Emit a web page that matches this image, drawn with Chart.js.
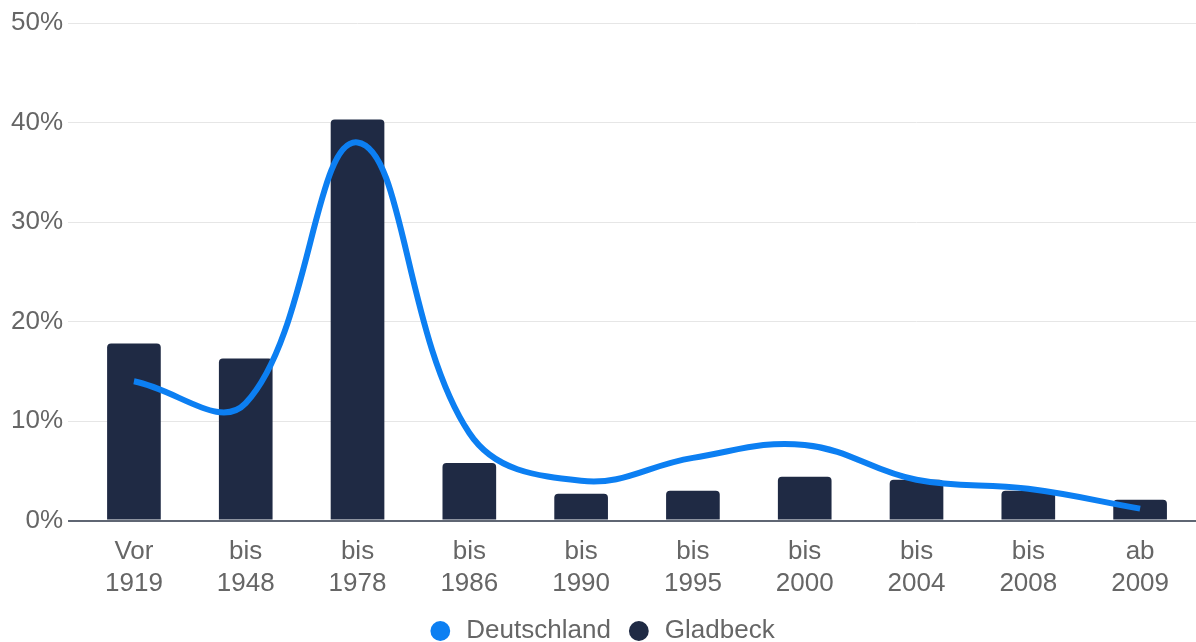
<!DOCTYPE html>
<html lang="de">
<head>
<meta charset="utf-8">
<title>Baujahr der Wohngebäude</title>
<script src="https://cdn.jsdelivr.net/npm/chart.js@4/dist/chart.umd.min.js"></script>
<style>
  html, body { margin: 0; padding: 0; background: #fff; }
  #wrap { width: 1196px; height: 642px; position: relative; }
</style>
</head>
<body>
<div id="wrap"><canvas id="chart"></canvas></div>
<script>
// building age classes, share of buildings in percent
const periods = [
  ['Vor', '1919'], ['bis', '1948'], ['bis', '1978'], ['bis', '1986'], ['bis', '1990'],
  ['bis', '1995'], ['bis', '2000'], ['bis', '2004'], ['bis', '2008'], ['ab', '2009']
];
const deutschland = [14.0, 11.8, 38.0, 8.8, 4.0, 6.3, 7.6, 4.1, 3.2, 1.2];
const gladbeck = [17.8, 16.3, 40.3, 5.8, 2.7, 3.0, 4.4, 4.1, 3.0, 2.1];
const yTicks = [0, 10, 20, 30, 40, 50];

const BLUE = '#0c7ff2';
const NAVY = '#1f2a44';
const GREY = '#666666';

Chart.defaults.font.family = '"Liberation Sans", Arial, sans-serif';
Chart.defaults.font.size = 26;
Chart.defaults.color = GREY;

// lift the legend row a few pixels after layout
const legendLift = {
  id: 'legendLift',
  afterLayout(chart) {
    if (chart.legend) {
      chart.legend.top -= 4;
      chart.legend.bottom -= 4;
    }
  }
};

new Chart(document.getElementById('chart'), {
  type: 'bar',
  data: {
    labels: periods,
    datasets: [
      {
        type: 'line',
        label: 'Deutschland',
        data: deutschland,
        borderColor: BLUE,
        backgroundColor: BLUE,
        borderWidth: 6,
        pointRadius: 0,
        tension: 0.4,
        borderCapStyle: 'butt'
      },
      {
        label: 'Gladbeck',
        data: gladbeck,
        backgroundColor: NAVY,
        borderRadius: 4,
        barPercentage: 0.6,
        categoryPercentage: 0.8
      }
    ]
  },
  plugins: [legendLift],
  options: {
    responsive: true,
    maintainAspectRatio: false,
    animation: false,
    // negative bottom pulls the legend close to the canvas edge
    layout: { padding: { top: 23, right: 0, left: 6, bottom: -16 } },
    plugins: {
      tooltip: { enabled: false },
      legend: {
        position: 'bottom',
        labels: {
          usePointStyle: true,
          boxWidth: 26,
          boxHeight: 14,
          padding: 15,
          font: { size: 26 },
          generateLabels: function (chart) {
            return chart.data.datasets.map((ds, i) => ({
              text: ds.label,
              fillStyle: ds.type === 'line' ? BLUE : NAVY,
              strokeStyle: ds.type === 'line' ? BLUE : NAVY,
              lineWidth: 0,
              pointStyle: 'circle',
              hidden: false,
              datasetIndex: i,
              fontColor: GREY
            }));
          }
        }
      }
    },
    scales: {
      x: {
        grid: { display: false },
        border: { display: false },
        ticks: { font: { size: 26 }, color: GREY, maxRotation: 0, padding: 8 }
      },
      y: {
        min: 0,
        max: 50,
        afterBuildTicks: axis => { axis.ticks = yTicks.map(v => ({ value: v })); },
        border: { display: false },
        grid: {
          tickLength: 10,
          color: ctx => (ctx.tick && ctx.tick.value === 0) ? '#5f6673' : '#e6e6e6',
          lineWidth: ctx => (ctx.tick && ctx.tick.value === 0) ? 2 : 1
        },
        ticks: {
          font: { size: 26 },
          color: GREY,
          padding: 5,
          callback: v => v + '%'
        }
      }
    }
  }
});
</script>
</body>
</html>
